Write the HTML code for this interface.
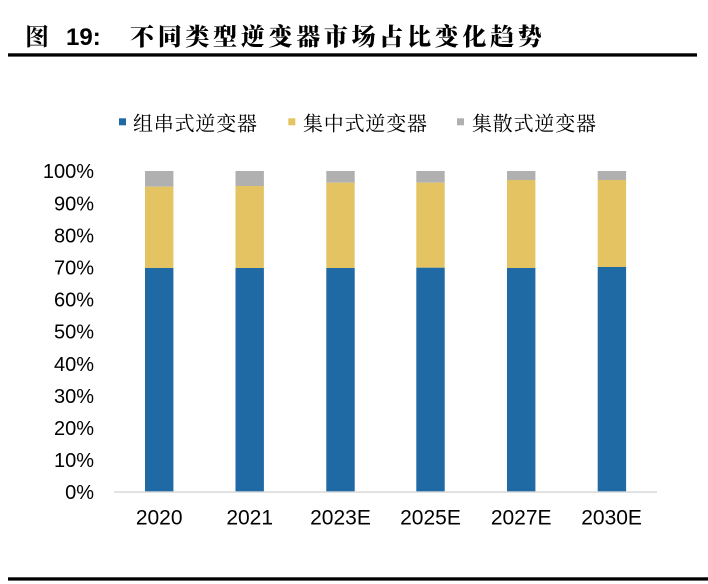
<!DOCTYPE html>
<html>
<head>
<meta charset="utf-8">
<style>
  html, body { margin: 0; padding: 0; background: #ffffff; }
  body { width: 708px; height: 584px; overflow: hidden; }
  svg { display: block; }
</style>
</head>
<body>
<svg width="708" height="584" viewBox="0 0 708 584" xmlns="http://www.w3.org/2000/svg">
  <rect x="0" y="0" width="708" height="584" fill="#ffffff"/>

  <!-- Title -->
  <text x="25" y="45" font-family="'Noto Serif CJK SC','Noto Sans CJK SC',serif" font-weight="bold" font-size="24" fill="#000">图</text>
  <text x="66" y="45" font-family="'Liberation Sans',sans-serif" font-weight="bold" font-size="24" fill="#000">19:</text>
  <text x="130" y="45" font-family="'Noto Serif CJK SC','Noto Sans CJK SC',serif" font-weight="900" font-size="24" letter-spacing="3.7" fill="#000">不同类型逆变器市场占比变化趋势</text>
  <rect x="8" y="53.3" width="689" height="3.3" fill="#000"/>

  <!-- Legend -->
  <rect x="119" y="118.3" width="7" height="7" fill="#1f6aa5"/>
  <text x="133" y="130.6" font-family="'Noto Serif CJK SC','Noto Sans CJK SC',serif" font-size="20" letter-spacing="0.8" fill="#000">组串式逆变器</text>
  <rect x="288.3" y="118.3" width="7" height="7" fill="#e4c462"/>
  <text x="303" y="130.6" font-family="'Noto Serif CJK SC','Noto Sans CJK SC',serif" font-size="20" letter-spacing="0.8" fill="#000">集中式逆变器</text>
  <rect x="457" y="118.3" width="7" height="7" fill="#b0b0b0"/>
  <text x="472" y="130.6" font-family="'Noto Serif CJK SC','Noto Sans CJK SC',serif" font-size="20" letter-spacing="0.8" fill="#000">集散式逆变器</text>

  <!-- Y axis labels -->
  <g font-family="'Liberation Sans',sans-serif" font-size="20" fill="#000" text-anchor="end">
    <text x="94" y="178.2">100%</text>
    <text x="94" y="210.3">90%</text>
    <text x="94" y="242.4">80%</text>
    <text x="94" y="274.5">70%</text>
    <text x="94" y="306.6">60%</text>
    <text x="94" y="338.7">50%</text>
    <text x="94" y="370.8">40%</text>
    <text x="94" y="402.9">30%</text>
    <text x="94" y="435.0">20%</text>
    <text x="94" y="467.1">10%</text>
    <text x="94" y="499.2">0%</text>
  </g>

  <!-- Bars -->
  <!-- 2020 -->
  <rect x="145" y="171" width="28.4" height="15.7" fill="#b0b0b0"/>
  <rect x="145" y="186.7" width="28.4" height="81.3" fill="#e4c462"/>
  <rect x="145" y="268" width="28.4" height="224" fill="#1f6aa5"/>
  <!-- 2021 -->
  <rect x="235.5" y="171" width="28.4" height="15" fill="#b0b0b0"/>
  <rect x="235.5" y="186" width="28.4" height="82" fill="#e4c462"/>
  <rect x="235.5" y="268" width="28.4" height="224" fill="#1f6aa5"/>
  <!-- 2023E -->
  <rect x="326.3" y="171" width="28.4" height="11.7" fill="#b0b0b0"/>
  <rect x="326.3" y="182.7" width="28.4" height="85.3" fill="#e4c462"/>
  <rect x="326.3" y="268" width="28.4" height="224" fill="#1f6aa5"/>
  <!-- 2025E -->
  <rect x="416.3" y="171" width="28.4" height="11.7" fill="#b0b0b0"/>
  <rect x="416.3" y="182.7" width="28.4" height="85" fill="#e4c462"/>
  <rect x="416.3" y="267.7" width="28.4" height="224.3" fill="#1f6aa5"/>
  <!-- 2027E -->
  <rect x="507" y="171" width="28.4" height="9" fill="#b0b0b0"/>
  <rect x="507" y="180" width="28.4" height="88" fill="#e4c462"/>
  <rect x="507" y="268" width="28.4" height="224" fill="#1f6aa5"/>
  <!-- 2030E -->
  <rect x="597.7" y="171" width="28.4" height="9" fill="#b0b0b0"/>
  <rect x="597.7" y="180" width="28.4" height="87" fill="#e4c462"/>
  <rect x="597.7" y="267" width="28.4" height="225" fill="#1f6aa5"/>

  <!-- X axis line -->
  <rect x="114" y="491.3" width="543" height="1.5" fill="#d9d9d9"/>

  <!-- X labels -->
  <g font-family="'Liberation Sans',sans-serif" font-size="21" fill="#000" text-anchor="middle">
    <text x="159.2" y="524.3">2020</text>
    <text x="249.7" y="524.3">2021</text>
    <text x="340.5" y="524.3">2023E</text>
    <text x="430.5" y="524.3">2025E</text>
    <text x="521.2" y="524.3">2027E</text>
    <text x="611.6" y="524.3">2030E</text>
  </g>

  <!-- Bottom rule -->
  <rect x="8" y="577.3" width="700" height="3.3" fill="#000"/>
</svg>
</body>
</html>
